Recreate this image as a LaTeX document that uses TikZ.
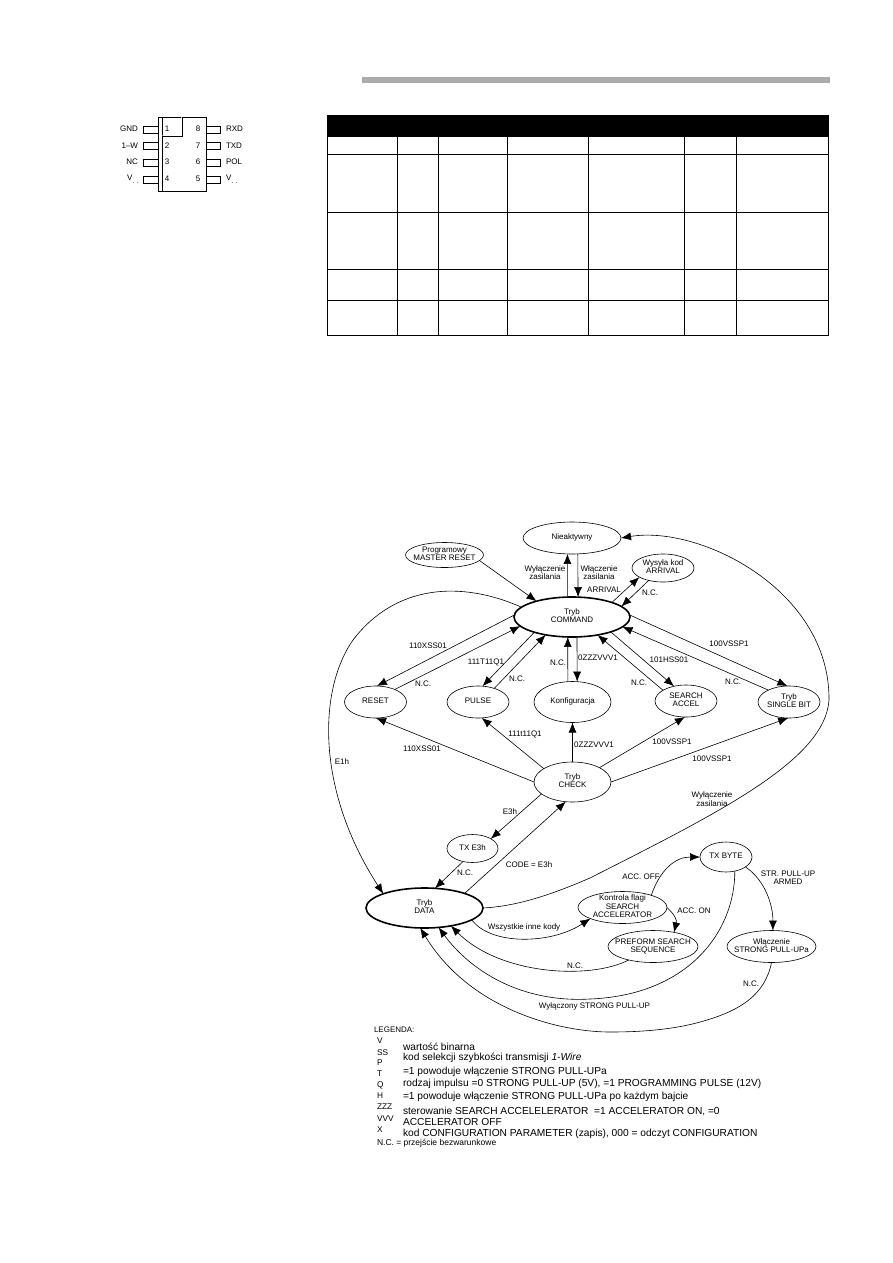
\documentclass[tikz,border=0pt]{standalone}
\usepackage{fontspec}
\setmainfont{Liberation Sans}
\usetikzlibrary{shapes.geometric,arrows.meta}
\newcommand\stx[1]{\smash{\raisebox{-2pt}{\makebox[0pt]{\begin{tabular}[c]{@{}c@{}}#1\end{tabular}}}}}
\tikzset{
  every node/.style={font=\fontsize{8}{8.3}\selectfont,inner sep=0pt,outer sep=0pt},
  state/.style={ellipse,draw,line width=0.6pt,fill=white},
  main/.style={state,line width=1.6pt},
  lab/.style={align=center,text=black},
  leg/.style={anchor=west,font=\fontsize{10.2}{10.2}\selectfont},
  key/.style={anchor=west,font=\fontsize{8.3}{8.3}\selectfont},
  pinlab/.style={font=\fontsize{8}{8}\selectfont},
  edge/.style={line width=0.6pt,-{Latex[length=10pt,width=8pt]}},
  tline/.style={line width=1pt},
  pin/.style={line width=0.7pt,fill=white}
}
\begin{document}
\begin{tikzpicture}[x=1pt,y=-1pt]
\useasboundingbox (0,0) rectangle (893,1263);
\fill[white] (0,0) rectangle (893,1263);
% top bar
\fill[black!33] (362,77) rectangle (830,83);
% package
\foreach \y in {126,142,159,176}{\draw[pin] (143,\y) rectangle (158,\y+7);\draw[pin] (206,\y) rectangle (220,\y+7);}
\draw[pin] (158,117) rectangle (206,191);
\draw[pin] (162,117) -- (162,191);
\draw[pin] (162,136) -- (182,136) -- (182,117);
\node[pinlab,anchor=east] (pa) at (138,129) {GND};
\node[pinlab,anchor=east] (pb) at (138,146) {1–W};
\node[pinlab,anchor=east] (pc) at (138,162) {NC};
\node[pinlab,anchor=west] (pd) at (127,179) {V\raisebox{-3pt}{\fontsize{7}{7}\selectfont . .}};
\node[pinlab,anchor=west] (pe) at (226,129) {RXD};
\node[pinlab,anchor=west] (pf) at (226,146) {TXD};
\node[pinlab,anchor=west] (pg) at (226,162) {POL};
\node[pinlab,anchor=west] (ph) at (226,179) {V\raisebox{-3pt}{\fontsize{7}{7}\selectfont . .}};
\node[pinlab] (n1) at (167,129) {1};
\node[pinlab] (n2) at (167,146) {2};
\node[pinlab] (n3) at (167,162) {3};
\node[pinlab] (n4) at (167,179) {4};
\node[pinlab] (n8) at (198,129) {8};
\node[pinlab] (n7) at (198,146) {7};
\node[pinlab] (n6) at (198,162) {6};
\node[pinlab] (n5) at (198,179) {5};
% table
\fill[black] (327,115) rectangle (828,137);
\draw[tline] (327,115) rectangle (828,335);
\foreach \y in {154,212,269,300}{\draw[tline] (327,\y) -- (828,\y);}
\foreach \x in {397,438,507,588,684,736}{\draw[tline] (\x,137) -- (\x,335);}
% states
\node[state,minimum width=98pt,minimum height=32pt] (nie) at (572,538) {\stx{Nieaktywny}};
\node[state,minimum width=78pt,minimum height=25pt] (prog) at (444.5,555) {\stx{Programowy\\MASTER RESET}};
\node[main,minimum width=116pt,minimum height=40pt] (cmd) at (572,617) {\stx{Tryb\\COMMAND}};
\node[state,minimum width=62pt,minimum height=28pt] (wys) at (663,568) {\stx{Wysyła kod\\ARRIVAL}};
\node[state,minimum width=62pt,minimum height=32pt] (rst) at (375.5,702) {\stx{RESET}};
\node[state,minimum width=62pt,minimum height=32pt] (pul) at (478,702) {\stx{PULSE}};
\node[state,minimum width=77pt,minimum height=41pt] (kon) at (572.5,702) {\stx{Konfiguracja}};
\node[state,minimum width=62pt,minimum height=32pt] (sea) at (686,701) {\stx{SEARCH\\ACCEL}};
\node[state,minimum width=62pt,minimum height=32pt] (sin) at (789,702) {\stx{Tryb\\SINGLE BIT}};
\node[state,minimum width=77pt,minimum height=40pt] (chk) at (572.5,782) {\stx{Tryb\\CHECK}};
\node[state,minimum width=51pt,minimum height=28pt] (txe) at (472.5,848.5) {\stx{TX E3h}};
\node[main,minimum width=117pt,minimum height=40pt] (dat) at (424.5,908) {\stx{Tryb\\DATA}};
\node[state,minimum width=89pt,minimum height=32pt] (kfl) at (622.5,907.5) {\stx{Kontrola flagi\\SEARCH\\ACCELERATOR}};
\node[state,minimum width=52pt,minimum height=30pt] (txb) at (726,857) {\stx{TX BYTE}};
\node[state,minimum width=90pt,minimum height=32pt] (pre) at (653,946.5) {\stx{PREFORM SEARCH\\SEQUENCE}};
\node[state,minimum width=89pt,minimum height=32pt] (wla) at (771.5,946.5) {\stx{Włączenie\\STRONG PULL-UPa}};
% straight connectors
\draw[edge] (cmd.103) -- (nie.254.3);
\draw[edge] (nie.290.6) -- (cmd.73.3);
\draw[edge] (prog.351) -- (cmd.156);
\draw[edge] (cmd.20) -- (wys.201);
\draw[edge] (wys.221) -- (cmd.12);
\draw[edge] (cmd.178) -- (rst.85);
\draw[edge] (rst.33) -- (cmd.190.5);
\draw[edge] (cmd.202.3) -- (pul.74.5);
\draw[edge] (pul.40) -- (cmd.214);
\draw[edge] (cmd.284) -- (kon.77);
\draw[edge] (kon.103) -- (cmd.258.7);
\draw[edge] (cmd.339) -- (sea.129);
\draw[edge] (sea.155) -- (cmd.325);
\draw[edge] (cmd.2) -- (sin.96);
\draw[edge] (sin.150) -- (cmd.349.3);
\draw[edge] (chk.180) -- (rst.272);
\draw[edge] (chk.155) -- (pul.283);
\draw[edge] (chk.90) -- (kon.270);
\draw[edge] (chk.28.6) -- (sea.266);
\draw[edge] (chk.0) -- (sin.267);
\draw[edge] (chk.201.8) -- (txe.28);
\draw[edge] (txe.234.8) -- (dat.62);
\draw[edge] (dat.20) -- (chk.251);
% curved connectors
\draw[edge] (cmd.169) .. controls (460,580) and (395,585) .. (353,640)
  .. controls (318,690) and (316,790) .. (dat.161);
\draw[edge] (dat.0) .. controls (520,906) and (555,893) .. (590,878)
  .. controls (720,812) and (825,760) .. (829,700)
  .. controls (830,590) and (700,525) .. (nie.0);
\draw[edge] (dat.346) .. controls (490,945) and (550,945) .. (kfl.199.5);
\draw[edge] (pre.209) .. controls (590,980) and (500,975) .. (dat.326);
\draw[edge] (txb.302.7) .. controls (735,930) and (690,995) .. (590,999)
  .. controls (520,1003) and (470,970) .. (dat.306);
\draw[edge] (wla.270) .. controls (765,995) and (740,1010) .. (707,1020)
  .. controls (675,1030) and (640,1032) .. (610,1032)
  .. controls (560,1032) and (470,1010) .. (dat.258);
\draw[edge] (kfl.23.9) .. controls (660,870) and (675,857) .. (txb.180);
\draw[edge] (kfl.0) .. controls (675,915) and (677,920) .. (pre.34.6);
\draw[edge] (txb.333) .. controls (765,880) and (773,905) .. (wla.85);
% edge labels
\node[lab] (l1) at (545,572.5) {Wyłączenie\\zasilania};
\node[lab] (l2) at (599,572.5) {Włączenie\\zasilania};
\node[lab] (l3) at (604,590) {ARRIVAL};
\node[lab] (l4) at (650,593) {N.C.};
\node[lab] (l5) at (428,646) {110XSS01};
\node[lab] (l6) at (423,684) {N.C.};
\node[lab] (l7) at (486,662) {111T11Q1};
\node[lab] (l8) at (517,679) {N.C.};
\node[lab] (l9) at (558,663) {N.C.};
\node[lab] (l10) at (598,658) {0ZZZVVV1};
\node[lab] (l11) at (669,660) {101HSS01};
\node[lab] (l12) at (639,683) {N.C.};
\node[lab] (l13) at (733,682) {N.C.};
\node[lab] (l14) at (729,644) {100VSSP1};
\node[lab] (l15) at (422,749) {110XSS01};
\node[lab] (l16) at (525,734) {111t11Q1};
\node[lab] (l17) at (594,745) {0ZZZVVV1};
\node[lab] (l18) at (672,742) {100VSSP1};
\node[lab] (l19) at (712,759) {100VSSP1};
\node[lab] (l20) at (712,799) {Wyłączenie\\zasilania};
\node[lab] (l21) at (510,812) {E3h};
\node[lab] (l22) at (529,865) {CODE = E3h};
\node[lab] (l23) at (465,873) {N.C.};
\node[lab] (l24) at (641,877) {ACC. OFF};
\node[lab] (l25) at (694,911) {ACC. ON};
\node[lab] (l26) at (788,877.5) {STR. PULL-UP\\ARMED};
\node[lab] (l27) at (524,927) {Wszystkie inne kody};
\node[lab] (l28) at (575,966) {N.C.};
\node[lab] (l29) at (594.5,1006) {Wyłączony STRONG PULL-UP};
\node[lab] (l30) at (751,984) {N.C.};
\node[lab] (l31) at (342,762) {E1h};
% legend
\node[anchor=west] (lg) at (374,1030) {LEGENDA:};
\node[key] (k1) at (377,1041) {V};
\node[key] (k2) at (377,1053) {SS};
\node[key] (k3) at (377,1063) {P};
\node[key] (k4) at (377,1074) {T};
\node[key] (k5) at (377,1085) {Q};
\node[key] (k6) at (377,1096) {H};
\node[key] (k7) at (377,1107) {ZZZ};
\node[key] (k8) at (377,1119) {VVV};
\node[key] (k9) at (377,1130) {X};
\node[leg] (d1) at (403,1047) {wartość binarna};
\node[leg] (d2) at (403,1058) {kod selekcji szybkości transmisji \textit{1-Wire}};
\node[leg] (d3) at (403,1072) {=1 powoduje włączenie STRONG PULL-UPa};
\node[leg] (d4) at (403,1084) {rodzaj impulsu =0 STRONG PULL-UP (5V), =1 PROGRAMMING PULSE (12V)};
\node[leg] (d5) at (403,1097) {=1 powoduje włączenie STRONG PULL-UPa po każdym bajcie};
\node[leg] (d6) at (403,1111) {sterowanie SEARCH ACCELELERATOR\ \ =1 ACCELERATOR ON, =0};
\node[leg] (d7) at (403,1122) {ACCELERATOR OFF};
\node[leg] (d8) at (403,1134) {kod CONFIGURATION PARAMETER (zapis), 000 = odczyt CONFIGURATION};
\node[anchor=west,font=\fontsize{8.5}{8.5}\selectfont] (nc) at (377,1143) {N.C. = przejście bezwarunkowe};
\end{tikzpicture}
\end{document}
